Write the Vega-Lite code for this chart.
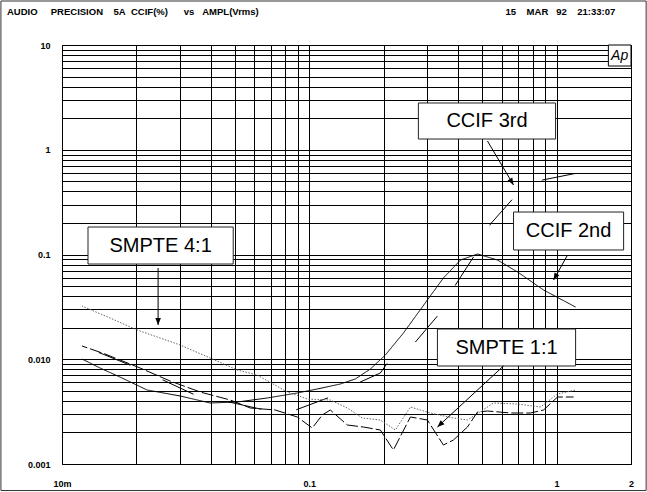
{
  "$schema": "https://vega.github.io/schema/vega-lite/v6.json",
  "width": 569,
  "height": 419,
  "autosize": {"type": "none"},
  "padding": {"left": 62, "top": 45, "right": 16, "bottom": 28},
  "background": "white",
  "config": {"view": {"stroke": "#000", "strokeWidth": 1}, "font": "Liberation Sans"},
  "datasets": {
    "curves": [
      {"series": "CCIF 2nd", "x": 0.01205, "y": 0.01005},
      {"series": "CCIF 2nd", "x": 0.01425, "y": 0.008252},
      {"series": "CCIF 2nd", "x": 0.01749, "y": 0.006622},
      {"series": "CCIF 2nd", "x": 0.02208, "y": 0.005087},
      {"series": "CCIF 2nd", "x": 0.03004, "y": 0.004459},
      {"series": "CCIF 2nd", "x": 0.03973, "y": 0.003823},
      {"series": "CCIF 2nd", "x": 0.05111, "y": 0.003907},
      {"series": "CCIF 2nd", "x": 0.06761, "y": 0.004267},
      {"series": "CCIF 2nd", "x": 0.08942, "y": 0.004763},
      {"series": "CCIF 2nd", "x": 0.1077, "y": 0.0052},
      {"series": "CCIF 2nd", "x": 0.1335, "y": 0.005803},
      {"series": "CCIF 2nd", "x": 0.1535, "y": 0.006479},
      {"series": "CCIF 2nd", "x": 0.1766, "y": 0.008069},
      {"series": "CCIF 2nd", "x": 0.2031, "y": 0.01098},
      {"series": "CCIF 2nd", "x": 0.2403, "y": 0.01781},
      {"series": "CCIF 2nd", "x": 0.3003, "y": 0.03678},
      {"series": "CCIF 2nd", "x": 0.3487, "y": 0.05967},
      {"series": "CCIF 2nd", "x": 0.4088, "y": 0.08859},
      {"series": "CCIF 2nd", "x": 0.479, "y": 0.1011},
      {"series": "CCIF 2nd", "x": 0.577, "y": 0.0886},
      {"series": "CCIF 2nd", "x": 0.6955, "y": 0.06808},
      {"series": "CCIF 2nd", "x": 0.8857, "y": 0.04582},
      {"series": "CCIF 2nd", "x": 1.194, "y": 0.0315},

      {"series": "CCIF 3rd", "x": 0.01205, "y": 0.01339},
      {"series": "CCIF 3rd", "x": 0.01493, "y": 0.01098},
      {"series": "CCIF 3rd", "x": 0.02012, "y": 0.008252},
      {"series": "CCIF 3rd", "x": 0.02612, "y": 0.006201},
      {"series": "CCIF 3rd", "x": 0.03455, "y": 0.004557},
      {"series": "CCIF 3rd", "x": 0.04362, "y": 0.004083},
      {"series": "CCIF 3rd", "x": 0.06334, "y": 0.00335},
      {"series": "CCIF 3rd", "x": 0.08378, "y": 0.003135},
      {"series": "CCIF 3rd", "x": 0.1216, "y": 0.004361},
      {"series": "CCIF 3rd", "x": 0.1609, "y": 0.006066},
      {"series": "CCIF 3rd", "x": 0.1938, "y": 0.007393},
      {"series": "CCIF 3rd", "x": 0.2069, "y": 0.009209},
      {"series": "CCIF 3rd", "x": 0.2686, "y": 0.01461},
      {"series": "CCIF 3rd", "x": 0.3298, "y": 0.02587},
      {"series": "CCIF 3rd", "x": 0.39, "y": 0.05115},
      {"series": "CCIF 3rd", "x": 0.4613, "y": 0.09465},
      {"series": "CCIF 3rd", "x": 0.5405, "y": 0.1956},
      {"series": "CCIF 3rd", "x": 0.6698, "y": 0.3462},
      {"series": "CCIF 3rd", "x": 0.8777, "y": 0.5143},
      {"series": "CCIF 3rd", "x": 1.216, "y": 0.5998},

      {"series": "SMPTE 1:1", "x": 0.01205, "y": 0.01339},
      {"series": "SMPTE 1:1", "x": 0.01493, "y": 0.01122},
      {"series": "SMPTE 1:1", "x": 0.02069, "y": 0.008252},
      {"series": "SMPTE 1:1", "x": 0.02736, "y": 0.006201},
      {"series": "SMPTE 1:1", "x": 0.0362, "y": 0.004868},
      {"series": "SMPTE 1:1", "x": 0.04789, "y": 0.004083},
      {"series": "SMPTE 1:1", "x": 0.0577, "y": 0.003424},
      {"series": "SMPTE 1:1", "x": 0.07284, "y": 0.003278},
      {"series": "SMPTE 1:1", "x": 0.08942, "y": 0.00281},
      {"series": "SMPTE 1:1", "x": 0.1028, "y": 0.002207},
      {"series": "SMPTE 1:1", "x": 0.1129, "y": 0.002936},
      {"series": "SMPTE 1:1", "x": 0.1216, "y": 0.003278},
      {"series": "SMPTE 1:1", "x": 0.1425, "y": 0.002357},
      {"series": "SMPTE 1:1", "x": 0.1654, "y": 0.002255},
      {"series": "SMPTE 1:1", "x": 0.1938, "y": 0.002112},
      {"series": "SMPTE 1:1", "x": 0.2188, "y": 0.00136},
      {"series": "SMPTE 1:1", "x": 0.2564, "y": 0.00281},
      {"series": "SMPTE 1:1", "x": 0.3003, "y": 0.00263},
      {"series": "SMPTE 1:1", "x": 0.3487, "y": 0.001518},
      {"series": "SMPTE 1:1", "x": 0.3828, "y": 0.001695},
      {"series": "SMPTE 1:1", "x": 0.4362, "y": 0.002255},
      {"series": "SMPTE 1:1", "x": 0.479, "y": 0.003135},
      {"series": "SMPTE 1:1", "x": 0.5255, "y": 0.003206},
      {"series": "SMPTE 1:1", "x": 0.6515, "y": 0.003068},
      {"series": "SMPTE 1:1", "x": 0.7847, "y": 0.003068},
      {"series": "SMPTE 1:1", "x": 0.8857, "y": 0.003278},
      {"series": "SMPTE 1:1", "x": 1.009, "y": 0.004361},
      {"series": "SMPTE 1:1", "x": 1.172, "y": 0.004361},

      {"series": "SMPTE 4:1", "x": 0.01205, "y": 0.03224},
      {"series": "SMPTE 4:1", "x": 0.01564, "y": 0.02476},
      {"series": "SMPTE 4:1", "x": 0.02012, "y": 0.01902},
      {"series": "SMPTE 4:1", "x": 0.02493, "y": 0.01595},
      {"series": "SMPTE 4:1", "x": 0.03004, "y": 0.01368},
      {"series": "SMPTE 4:1", "x": 0.03973, "y": 0.01028},
      {"series": "SMPTE 4:1", "x": 0.05111, "y": 0.007898},
      {"series": "SMPTE 4:1", "x": 0.0616, "y": 0.007075},
      {"series": "SMPTE 4:1", "x": 0.08146, "y": 0.004868},
      {"series": "SMPTE 4:1", "x": 0.09815, "y": 0.004174},
      {"series": "SMPTE 4:1", "x": 0.1216, "y": 0.004083},
      {"series": "SMPTE 4:1", "x": 0.1425, "y": 0.003424},
      {"series": "SMPTE 4:1", "x": 0.1639, "y": 0.002749},
      {"series": "SMPTE 4:1", "x": 0.1938, "y": 0.00263},
      {"series": "SMPTE 4:1", "x": 0.2229, "y": 0.002112},
      {"series": "SMPTE 4:1", "x": 0.2564, "y": 0.0035},
      {"series": "SMPTE 4:1", "x": 0.309, "y": 0.003068},
      {"series": "SMPTE 4:1", "x": 0.3828, "y": 0.002749},
      {"series": "SMPTE 4:1", "x": 0.4362, "y": 0.00263},
      {"series": "SMPTE 4:1", "x": 0.4832, "y": 0.003068},
      {"series": "SMPTE 4:1", "x": 0.5558, "y": 0.003823},
      {"series": "SMPTE 4:1", "x": 0.6955, "y": 0.003739},
      {"series": "SMPTE 4:1", "x": 0.8613, "y": 0.0035},
      {"series": "SMPTE 4:1", "x": 1.009, "y": 0.004658},
      {"series": "SMPTE 4:1", "x": 1.194, "y": 0.005087}
    ],
    "notes": [
      {"label": "SMPTE 4:1", "x1": 0.01274, "x2": 0.04925, "y1": 0.0811, "y2": 0.183, "gx": 0.02505, "gy": 0.1218},
      {"label": "CCIF 3rd", "x1": 0.2762, "x2": 0.9908, "y1": 1.266, "y2": 2.795, "gx": 0.5231, "gy": 1.881},
      {"label": "CCIF 2nd", "x1": 0.6698, "x2": 1.867, "y1": 0.1104, "y2": 0.2544, "gx": 1.1183, "gy": 0.1676},
      {"label": "SMPTE 1:1", "x1": 0.3298, "x2": 1.194, "y1": 0.008622, "y2": 0.01944, "gx": 0.6275, "gy": 0.012947}
    ],
    "arrows": [
      {"label": "SMPTE 4:1", "ax1": 0.02447, "ay1": 0.07432, "ax2": 0.02447, "ay2": 0.02123},
      {"label": "CCIF 3rd", "ax1": 0.5255, "ay1": 1.212, "ax2": 0.6698, "ay2": 0.4609},
      {"label": "CCIF 2nd", "ax1": 1.108, "ay1": 0.0989, "ax2": 0.9725, "ay2": 0.0571},
      {"label": "SMPTE 1:1", "ax1": 0.61, "ay1": 0.008622, "ax2": 0.3298, "ay2": 0.002255}
    ],
    "logo": [
      {"text": "Ap", "x1": 1.62, "x2": 2, "y1": 6.3, "y2": 10, "gx": 1.8, "gy": 7.85}
    ],
    "header": [
      {"text": "AUDIO\u00a0\u00a0\u00a0\u00a0\u00a0PRECISION\u00a0\u00a0\u00a0\u00a05A\u00a0\u00a0CCIF(%)\u00a0\u00a0\u00a0\u00a0\u00a0\u00a0vs\u00a0\u00a0\u00a0AMPL(Vrms)", "hx": 0.005989, "hy": 20.65},
      {"text": "15\u00a0\u00a0\u00a0\u00a0MAR\u00a0\u00a0\u00a092\u00a0\u00a0\u00a0\u00a021:33:07", "hx": 0.6216, "hy": 20.65}
    ],
    "frame": [
      {"x1": 0.005662, "x2": 2.303, "y1": 0.000558, "y2": 26.3}
    ]
  },
  "layer": [
    {
      "data": {"name": "curves"},
      "mark": {"type": "line", "strokeWidth": 1, "clip": true, "strokeDashOffset": 51.5},
      "encoding": {
        "x": {
          "field": "x", "type": "quantitative",
          "scale": {"type": "log", "domain": [0.01, 2], "nice": false},
          "axis": {
            "values": [0.01, 0.02, 0.03, 0.04, 0.05, 0.06, 0.07, 0.08, 0.09, 0.1, 0.2, 0.3, 0.4, 0.5, 0.6, 0.7, 0.8, 0.9, 1, 2],
            "labelExpr": "datum.value === 0.01 ? '10m' : datum.value === 0.1 ? '0.1' : datum.value === 1 ? '1' : datum.value === 2 ? '2' : ''",
            "grid": true, "gridColor": "#000", "gridOpacity": 1, "gridWidth": 1,
            "ticks": false, "domain": false, "title": null,
            "labelFont": "Liberation Sans", "labelFontWeight": "bold", "labelFontSize": 9, "labelColor": "#000",
            "labelPadding": 15, "labelFlush": false, "labelOverlap": false, "labelBound": false
          }
        },
        "y": {
          "field": "y", "type": "quantitative",
          "scale": {"type": "log", "domain": [0.001, 10], "nice": false},
          "axis": {
            "values": [0.001, 0.002, 0.003, 0.004, 0.005, 0.006, 0.007, 0.008, 0.009, 0.01, 0.02, 0.03, 0.04, 0.05, 0.06, 0.07, 0.08, 0.09, 0.1, 0.2, 0.3, 0.4, 0.5, 0.6, 0.7, 0.8, 0.9, 1, 2, 3, 4, 5, 6, 7, 8, 9, 10],
            "labelExpr": "datum.value === 10 ? '10' : datum.value === 1 ? '1' : datum.value === 0.1 ? '0.1' : datum.value === 0.01 ? '0.010' : datum.value === 0.001 ? '0.001' : ''",
            "grid": true, "gridColor": "#000", "gridOpacity": 1, "gridWidth": 1,
            "ticks": false, "domain": false, "title": null,
            "labelFont": "Liberation Sans", "labelFontWeight": "bold", "labelFontSize": 9, "labelColor": "#000",
            "labelPadding": 12, "labelOverlap": false, "labelBound": false, "labelFlush": false
          }
        },
        "detail": {"field": "series"},
        "color": {
          "field": "series", "type": "nominal",
          "scale": {"domain": ["CCIF 2nd", "CCIF 3rd", "SMPTE 1:1", "SMPTE 4:1"], "range": ["#000000", "#000000", "#000000", "#666666"]},
          "legend": null
        },
        "strokeDash": {
          "field": "series", "type": "nominal",
          "scale": {"domain": ["CCIF 2nd", "CCIF 3rd", "SMPTE 1:1", "SMPTE 4:1"], "range": [[1, 0], [34, 35.5], [12, 3], [1.5, 1.5]]},
          "legend": null
        }
      }
    },
    {
      "data": {"name": "notes"},
      "mark": {"type": "rect", "fill": "#fff", "stroke": "#222", "strokeWidth": 1},
      "encoding": {
        "x": {"field": "x1", "type": "quantitative", "scale": {"type": "log", "domain": [0.01, 2], "nice": false}},
        "x2": {"field": "x2"},
        "y": {"field": "y1", "type": "quantitative", "scale": {"type": "log", "domain": [0.001, 10], "nice": false}},
        "y2": {"field": "y2"}
      }
    },
    {
      "data": {"name": "notes"},
      "mark": {"type": "text", "font": "Liberation Sans", "fontSize": 20, "color": "#000", "align": "center", "baseline": "middle"},
      "encoding": {
        "x": {"field": "gx", "type": "quantitative", "scale": {"type": "log", "domain": [0.01, 2], "nice": false}},
        "y": {"field": "gy", "type": "quantitative", "scale": {"type": "log", "domain": [0.001, 10], "nice": false}},
        "text": {"field": "label"}
      }
    },
    {
      "data": {"name": "arrows"},
      "mark": {"type": "rule", "color": "#000", "strokeWidth": 1},
      "encoding": {
        "x": {"field": "ax1", "type": "quantitative", "scale": {"type": "log", "domain": [0.01, 2], "nice": false}},
        "y": {"field": "ay1", "type": "quantitative", "scale": {"type": "log", "domain": [0.001, 10], "nice": false}},
        "x2": {"field": "ax2"},
        "y2": {"field": "ay2"}
      }
    },
    {
      "data": {"name": "arrows"},
      "mark": {"type": "point", "filled": true, "color": "#000", "opacity": 1, "size": 196, "strokeWidth": 0},
      "encoding": {
        "x": {"field": "ax2", "type": "quantitative", "scale": {"type": "log", "domain": [0.01, 2], "nice": false}},
        "y": {"field": "ay2", "type": "quantitative", "scale": {"type": "log", "domain": [0.001, 10], "nice": false}},
        "shape": {
          "field": "label", "type": "nominal",
          "scale": {
            "domain": ["SMPTE 4:1", "CCIF 3rd", "CCIF 2nd", "SMPTE 1:1"],
            "range": ["M0,0L-0.4,-1L0.4,-1Z", "M0,0L-0.858,-0.651L-0.172,-1.063Z", "M0,0L0.135,-1.068L0.835,-0.681Z", "M0,0L0.459,-0.975L1.004,-0.389Z"]
          },
          "legend": null
        }
      }
    },
    {
      "data": {"name": "logo"},
      "mark": {"type": "rect", "fill": "#fff", "stroke": "#000", "strokeWidth": 1},
      "encoding": {
        "x": {"field": "x1", "type": "quantitative", "scale": {"type": "log", "domain": [0.01, 2], "nice": false}},
        "x2": {"field": "x2"},
        "y": {"field": "y1", "type": "quantitative", "scale": {"type": "log", "domain": [0.001, 10], "nice": false}},
        "y2": {"field": "y2"}
      }
    },
    {
      "data": {"name": "logo"},
      "mark": {"type": "text", "font": "Liberation Sans", "fontSize": 14, "fontStyle": "italic", "color": "#000", "align": "center", "baseline": "middle"},
      "encoding": {
        "x": {"field": "gx", "type": "quantitative", "scale": {"type": "log", "domain": [0.01, 2], "nice": false}},
        "y": {"field": "gy", "type": "quantitative", "scale": {"type": "log", "domain": [0.001, 10], "nice": false}},
        "text": {"field": "text"}
      }
    },
    {
      "data": {"name": "header"},
      "mark": {"type": "text", "font": "Liberation Sans", "fontSize": 9.5, "fontWeight": "bold", "color": "#000", "align": "left", "baseline": "middle", "clip": false},
      "encoding": {
        "x": {"field": "hx", "type": "quantitative", "scale": {"type": "log", "domain": [0.01, 2], "nice": false}},
        "y": {"field": "hy", "type": "quantitative", "scale": {"type": "log", "domain": [0.001, 10], "nice": false}},
        "text": {"field": "text"}
      }
    },
    {
      "data": {"name": "frame"},
      "mark": {"type": "rect", "fill": "#fff", "fillOpacity": 0, "stroke": "#333", "strokeWidth": 1, "clip": false},
      "encoding": {
        "x": {"field": "x1", "type": "quantitative", "scale": {"type": "log", "domain": [0.01, 2], "nice": false}},
        "x2": {"field": "x2"},
        "y": {"field": "y1", "type": "quantitative", "scale": {"type": "log", "domain": [0.001, 10], "nice": false}},
        "y2": {"field": "y2"}
      }
    }
  ]
}
